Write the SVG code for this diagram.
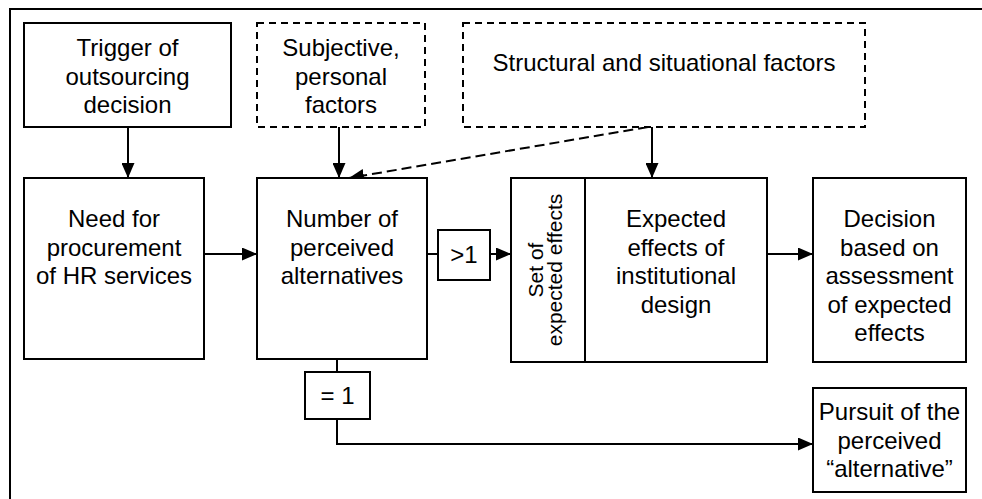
<svg xmlns="http://www.w3.org/2000/svg" width="982" height="499" viewBox="0 0 982 499">
<style>
.box{fill:#fff;stroke:#000;stroke-width:2}
.dbox{fill:#fff;stroke:#000;stroke-width:2;stroke-dasharray:7 5}
.t{font-family:"Liberation Sans",Arial,Helvetica,sans-serif;font-size:24px;fill:#000;text-anchor:middle}
.tr{font-family:"Liberation Sans",Arial,Helvetica,sans-serif;font-size:21px;fill:#000;text-anchor:middle}
.ln{fill:none;stroke:#000;stroke-width:2}
.arr{fill:none;stroke:#000;stroke-width:2;marker-end:url(#ah)}
.darr{fill:none;stroke:#000;stroke-width:2;stroke-dasharray:10 5;marker-end:url(#ah)}
</style>
<defs>
<marker id="ah" markerUnits="userSpaceOnUse" markerWidth="15" markerHeight="13" refX="15" refY="6.5" orient="auto">
<path d="M0,0 L15,6.5 L0,13 z" fill="#000"/>
</marker>
</defs>
<rect x="0" y="0" width="982" height="499" fill="#fff"/>
<rect x="10" y="9" width="990" height="500" fill="none" stroke="#000" stroke-width="2"/>

<g id="connectors">
<line class="arr" x1="128" y1="127" x2="128" y2="178"/>
<line class="arr" x1="339" y1="127" x2="339" y2="178"/>
<line class="darr" x1="648" y1="127" x2="349" y2="178"/>
<line class="arr" x1="652" y1="127" x2="652" y2="178"/>
<line class="arr" x1="204" y1="254" x2="257" y2="254"/>
<line class="ln" x1="427" y1="254" x2="438" y2="254"/>
<line class="arr" x1="490" y1="254" x2="511" y2="254"/>
<line class="arr" x1="767" y1="254" x2="813" y2="254"/>
<line class="ln" x1="337" y1="359" x2="337" y2="372"/>
<polyline class="arr" points="337,419 337,444 813,444"/>
</g>

<g id="trigger">
<rect class="box" x="24" y="23" width="207" height="104"/>
<text class="t" x="127.5" y="56">Trigger of</text>
<text class="t" x="127.5" y="84.5">outsourcing</text>
<text class="t" x="127.5" y="113">decision</text>
</g>

<g id="subjective">
<rect class="dbox" x="257" y="23" width="168" height="104"/>
<text class="t" x="341" y="56">Subjective,</text>
<text class="t" x="341" y="84.5">personal</text>
<text class="t" x="341" y="113">factors</text>
</g>

<g id="structural">
<rect class="dbox" x="463" y="23" width="402" height="104"/>
<text class="t" x="664" y="71">Structural and situational factors</text>
</g>

<g id="need">
<rect class="box" x="24" y="178" width="180" height="181"/>
<text class="t" x="114" y="227">Need for</text>
<text class="t" x="114" y="255.5">procurement</text>
<text class="t" x="114" y="284">of HR services</text>
</g>

<g id="number">
<rect class="box" x="257" y="178" width="170" height="181"/>
<text class="t" x="342" y="227">Number of</text>
<text class="t" x="342" y="255.5">perceived</text>
<text class="t" x="342" y="284">alternatives</text>
</g>

<g id="gt1">
<rect class="box" x="438" y="230" width="52" height="50"/>
<text class="t" x="464" y="263">&gt;1</text>
</g>

<g id="eq1">
<rect class="box" x="305" y="372" width="65" height="47"/>
<text class="t" x="337.5" y="404">= 1</text>
</g>

<g id="expected">
<rect class="box" x="511" y="178" width="256" height="184"/>
<line class="ln" x1="585" y1="178" x2="585" y2="362"/>
<text class="tr" transform="translate(543,270) rotate(-90)">Set of</text>
<text class="tr" transform="translate(562,270) rotate(-90)">expected effects</text>
<text class="t" x="676" y="227">Expected</text>
<text class="t" x="676" y="255.5">effects of</text>
<text class="t" x="676" y="284">institutional</text>
<text class="t" x="676" y="312.5">design</text>
</g>

<g id="decision">
<rect class="box" x="813" y="178" width="153" height="184"/>
<text class="t" x="889.5" y="227">Decision</text>
<text class="t" x="889.5" y="255.5">based on</text>
<text class="t" x="889.5" y="284">assessment</text>
<text class="t" x="889.5" y="312.5">of expected</text>
<text class="t" x="889.5" y="341">effects</text>
</g>

<g id="pursuit">
<rect class="box" x="813" y="388" width="153" height="104"/>
<text class="t" x="889.5" y="420">Pursuit of the</text>
<text class="t" x="889.5" y="448.5">perceived</text>
<text class="t" x="889.5" y="477">“alternative”</text>
</g>
</svg>
